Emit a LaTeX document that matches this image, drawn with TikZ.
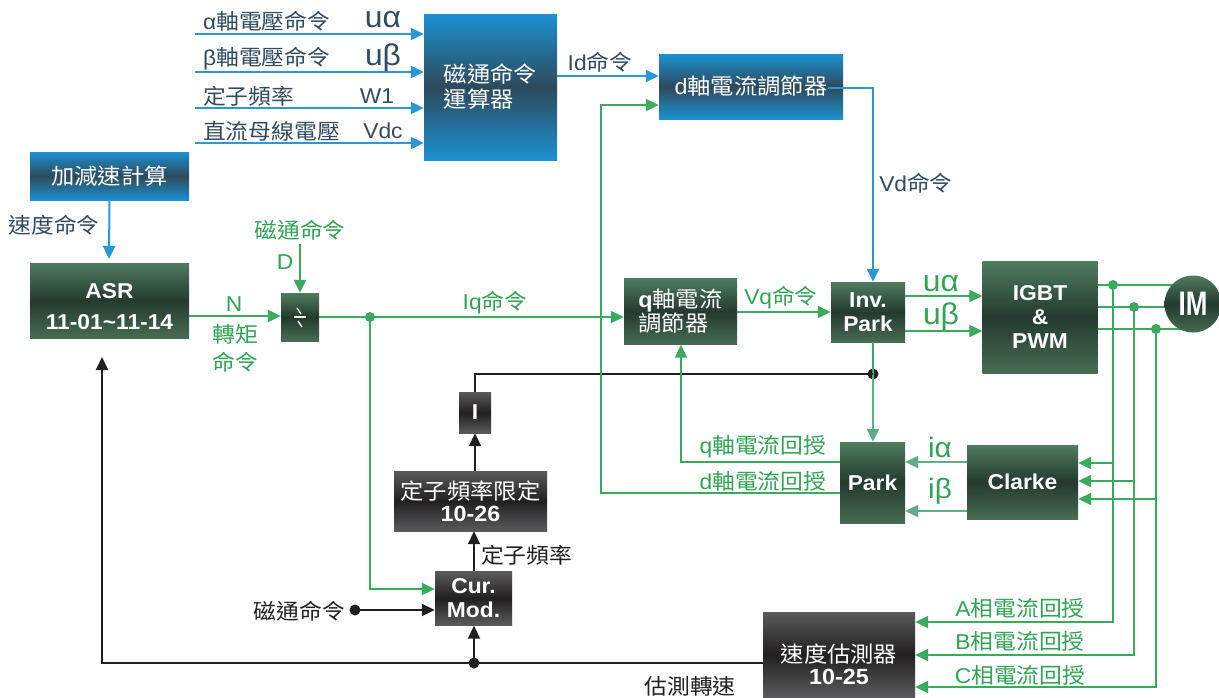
\documentclass[tikz,border=0pt]{standalone}
\usepackage{fontspec}
\setmainfont[FakeStretch=1.06]{Liberation Sans}
\newfontfamily\cjk[FakeStretch=1.06]{Noto Sans CJK TC}
\usetikzlibrary{arrows.meta,calc}
\definecolor{gline}{HTML}{3AAA5E}
\definecolor{lgline}{HTML}{62AC82}
\definecolor{gtext}{HTML}{2FA553}
\definecolor{bline}{HTML}{2A97D6}
\definecolor{btext}{HTML}{2F4C62}
\definecolor{kline}{HTML}{231F20}
\definecolor{blueA}{HTML}{1B91D1}
\definecolor{blueB}{HTML}{2E4A5C}
\definecolor{grnA}{HTML}{4F7C5F}
\definecolor{grnB}{HTML}{243A2E}
\definecolor{grnC}{HTML}{476C53}
\definecolor{gryA}{HTML}{5A5A5C}
\definecolor{gryB}{HTML}{231F20}
\newcommand\zh[1]{{\cjk #1}}
\begin{document}
\begin{tikzpicture}[x=1pt,y=-1pt,
  >={Triangle[length=13pt,width=12pt]},
  box/.style={rectangle,inner sep=0pt,text=white,align=center},
  bluebox/.style={box,top color=blueA,bottom color=blueA,middle color=blueB,font=\cjk\fontsize{22}{25}\selectfont},
  grnbox/.style={box,top color=grnA,bottom color=grnC,middle color=grnB,font=\bfseries\fontsize{21.5}{24}\selectfont},
  grybox/.style={box,top color=gryA,bottom color=gryA,middle color=gryB,font=\bfseries\fontsize{21.5}{24}\selectfont},
  gl/.style={draw=gline,line width=2pt},
  lgl/.style={draw=lgline,line width=2pt},
  bl/.style={draw=bline,line width=2pt},
  kl/.style={draw=kline,line width=2pt},
  lab/.style={inner sep=0pt,font=\fontsize{21.5}{24}\selectfont},
  glab/.style={lab,text=gtext},
  blab/.style={lab,text=btext},
  klab/.style={lab,text=kline},
  biglab/.style={inner sep=0pt,font=\fontsize{30}{30}\selectfont},
  gdot/.style={circle,fill=gline,inner sep=0pt,minimum size=10pt},
  kdot/.style={circle,fill=kline,inner sep=0pt,minimum size=11pt}
]
\useasboundingbox[fill=white] (0,0) rectangle (1219,697);

% ---------- boxes ----------
\node[bluebox,minimum width=133pt,minimum height=146pt,align=left] (flux) at (490.5,87) {磁通命令\\運算器};
\node[bluebox,minimum width=159pt,minimum height=48pt] (acc) at (109.5,176) {加減速計算};
\node[bluebox,minimum width=184pt,minimum height=65pt] (dreg) at (751,86.5) {{\rmfamily d}軸電流調節器};
\node[grnbox,minimum width=159pt,minimum height=75pt] (asr) at (109.5,300.5) {};
\node[box,font=\bfseries\fontsize{21.5}{24}\selectfont] (asrtext) at (109.5,307) {ASR\\[7pt]11-01\textasciitilde 11-14};
\node[grnbox,minimum width=38pt,minimum height=48pt] (div) at (300,317) {};
\node[grnbox,minimum width=113pt,minimum height=66pt,align=left,font=\cjk\fontsize{22}{24}\selectfont] (qreg) at (680.5,311.5) {{\rmfamily\bfseries q}軸電流\\調節器};
\node[grnbox,minimum width=74pt,minimum height=60pt] (invpark) at (868,312) {Inv.\\Park};
\node[grnbox,minimum width=115pt,minimum height=112pt] (igbt) at (1040,317) {IGBT\\\&\\PWM};
\node[grnbox,minimum width=111pt,minimum height=74pt] (clarke) at (1022.5,482) {Clarke};
\node[grnbox,minimum width=65pt,minimum height=81pt] (park) at (872.5,482.5) {Park};
\node[grybox,minimum width=32pt,minimum height=41pt] (ibox) at (475,412.5) {I};
\node[grybox,minimum width=153pt,minimum height=60pt,font=\cjk\fontsize{22}{24}\selectfont] (lim) at (470.5,501) {定子頻率限定\\[-2pt]{\rmfamily\bfseries 10-26}};
\node[grybox,minimum width=77pt,minimum height=54pt] (cur) at (473.5,598.5) {Cur.\\Mod.};
\node[grybox,minimum width=152pt,minimum height=85pt] (est) at (839,654.5) {};
\node[box,font=\cjk\fontsize{22}{24}\selectfont] (esttext) at ($(est.center)+(0,10)$) {速度估測器\\[-2pt]{\rmfamily\bfseries 10-25}};

% divider symbol
\draw[white,line width=1.5pt] ($(div.center)+(-6,0)$) -- ($(div.center)+(6,0)$);
\draw[white,line width=1.3pt] ($(div.center)+(-3,-9)$) -- ($(div.center)+(1,-3)$);
\draw[white,line width=1.3pt] ($(div.center)+(-2,4)$) -- ($(div.center)+(2,10)$);

% ---------- top inputs ----------
\coordinate (in1) at (195,34);
\coordinate (in2) at (195,72);
\coordinate (in3) at (195,108);
\coordinate (in4) at (195,143);
\foreach \c in {in1,in2,in3,in4} \draw[bl,->] (\c) -- (\c -| flux.west);
\node[blab,anchor=west] (t1) at (203,21) {α\zh{軸電壓命令}};
\node[blab,anchor=west] (t2) at (203,59) {β\zh{軸電壓命令}};
\node[blab,anchor=west] (t3) at (203,96) {\zh{定子頻率}};
\node[blab,anchor=west] (t4) at (203,131) {\zh{直流母線電壓}};
\node[biglab,text=btext] (u1) at (383,20) {uα};
\node[biglab,text=btext] (u2) at (383,58) {uβ};
\node[blab] (w1) at (377,96) {W1};
\node[blab] (vdc) at (383,131) {Vdc};

% flux -> dreg
\coordinate (idy) at (0,76);
\draw[bl,->] (flux.east |- idy) -- (dreg.west |- idy);
\node[blab] (idl) at (600,62) {Id\zh{命令}};

% acc -> asr
\coordinate (spd) at (109,259);
\draw[bl,->] (acc.south) -- (spd);
\node[blab] (spdl) at (54,225) {\zh{速度命令}};

% dreg -> invpark (Vd)
\coordinate (vd1) at (828,88);
\coordinate (vd2) at (873,88);
\draw[bl,->] (vd1) -- (vd2) -- (vd2 |- invpark.north);
\node[blab] (vdl) at (916,183) {Vd\zh{命令}};

% ASR -> div
\coordinate (ny) at (0,316);
\draw[gl,->] (asr.east |- ny) -- (div.west |- ny);
\node[glab] (nl) at (234,304) {N};
\node[glab] (tq1) at (235,334) {\zh{轉矩}};
\node[glab] (tq2) at (235,362) {\zh{命令}};
\coordinate (dtop) at (300,244);
\draw[gl,->] (dtop) -- (div.north);
\node[glab] (fl1) at (300,230) {\zh{磁通命令}};
\node[glab] (dl) at (285,262) {D};

% div -> qreg
\draw[gl,->] (div.east) -- (div.east -| qreg.west);
\node[glab] (iql) at (495,303) {Iq\zh{命令}};
\node[gdot] (iqd) at (370,317) {};
\coordinate (iqb) at (370,589);
\draw[gl,->] (iqd.center) -- (iqb) -- (iqb -| cur.west);

% qreg -> invpark
\coordinate (vqy) at (0,312);
\draw[gl,->] (qreg.east |- vqy) -- (invpark.west |- vqy);
\node[glab] (vql) at (781,298) {Vq\zh{命令}};

% invpark -> igbt
\coordinate (ua) at (0,296);
\coordinate (ub) at (0,331);
\draw[gl,->] (invpark.east |- ua) -- (igbt.west |- ua);
\draw[gl,->] (invpark.east |- ub) -- (igbt.west |- ub);
\node[biglab,text=gtext] (ual) at (941,284) {uα};
\node[biglab,text=gtext] (ubl) at (941,317) {uβ};

% igbt -> IM
\coordinate (pa) at (1113,285);
\coordinate (pb) at (1134,307);
\coordinate (pc) at (1156,329);
\draw[gl] (igbt.east |- pa) -- (1185,285);
\draw[gl] (igbt.east |- pb) -- (1185,307);
\draw[gl] (igbt.east |- pc) -- (1185,329);
\node[circle,minimum size=57pt,inner sep=0pt,top color=grnA,bottom color=grnC,middle color=grnB,text=white,font=\bfseries] (im) at (1193,304) {\scalebox{0.72}[1]{\fontsize{34}{34}\selectfont IM}};

% phase feedback
\coordinate (fa) at (1113,622);
\coordinate (fb) at (1134,655);
\coordinate (fc) at (1156,687);
\draw[gl,->] (pa) -- (fa) -- (fa -| est.east);
\draw[gl,->] (pb) -- (fb) -- (fb -| est.east);
\draw[gl,->] (pc) -- (fc) -- (fc -| est.east);
\node[gdot] (da) at (pa) {};
\node[gdot] (db) at (pb) {};
\node[gdot] (dc) at (pc) {};
\node[glab] (al) at (1020,608) {A\zh{相電流回授}};
\node[glab] (bl) at (1020,641) {B\zh{相電流回授}};
\node[glab] (cl) at (1020,675) {C\zh{相電流回授}};

% into clarke
\draw[gl,->] (1113,463) -- (clarke.east |- 0,463);
\draw[gl,->] (1134,481) -- (clarke.east |- 0,481);
\draw[gl,->] (1156,499) -- (clarke.east |- 0,499);

% clarke -> park
\coordinate (iay) at (0,462);
\coordinate (iby) at (0,511);
\draw[lgl,->] (clarke.west |- iay) -- (park.east |- iay);
\draw[lgl,->] (clarke.west |- iby) -- (park.east |- iby);
\node[glab,font=\fontsize{28}{28}\selectfont] (ial) at (940,447) {iα};
\node[glab,font=\fontsize{28}{28}\selectfont] (ibl) at (940,491) {iβ};

% invpark -> park with theta tap
\node[kdot] (th) at (873,374) {};
\draw[gl] (invpark.south -| th) -- (th.center);
\draw[lgl,->] (th.center) -- (th |- park.north);
\coordinate (thl) at (475,374);
\draw[kl] (th.center) -- (thl) -- (ibox.north);

% current feedback into regulators
\coordinate (qf) at (681,462);
\draw[gl,->] (park.west |- qf) -- (qf) -- (qf |- qreg.south);
\node[glab] (qfl) at (763,447) {q\zh{軸電流回授}};
\coordinate (df) at (601,493);
\coordinate (dft) at (601,105);
\draw[gl,->] (park.west |- df) -- (df) -- (dft) -- (dft -| dreg.west);
\node[glab] (dfl) at (763,481) {d\zh{軸電流回授}};

% slip path
\draw[kl,->] (lim.north -| ibox) -- (ibox.south);
\draw[kl,->] (cur.north -| 474,0) -- (lim.south -| 474,0);
\node[klab,anchor=west] (fsl) at (481,555) {\zh{定子頻率}};
\node[kdot] (fxd) at (355,610) {};
\draw[kl,->] (fxd.center) -- (fxd -| cur.west);
\node[klab,anchor=east] (fxl) at (345,611) {\zh{磁通命令}};

% speed estimate feedback
\coordinate (sfb) at (102,663);
\coordinate (sft) at (102,357);
\draw[kl,->] (est.west |- sfb) -- (sfb) -- (sft);
\node[kdot] (sd) at (474,663) {};
\draw[kl,->] (sd.center) -- (sd |- cur.south);
\node[klab] (sel) at (690,686) {\zh{估測轉速}};

\end{tikzpicture}
\end{document}
